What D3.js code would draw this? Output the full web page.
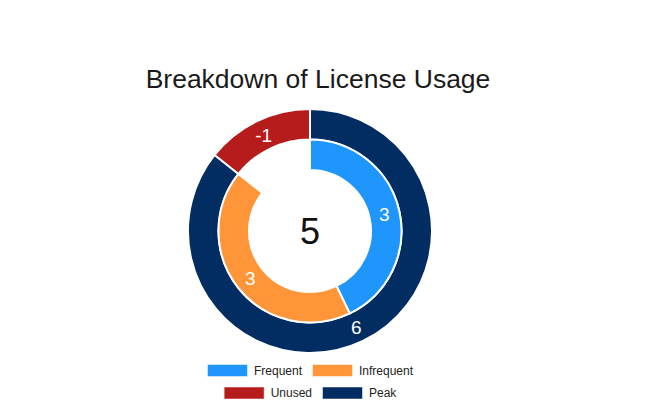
<!DOCTYPE html>
<html>
<head>
<meta charset="utf-8">
<script src="https://cdn.jsdelivr.net/npm/d3@7"></script>
<style>
  html, body { margin: 0; padding: 0; background: #fff; }
  svg text { font-family: "Liberation Sans", Arial, Helvetica, sans-serif; }
</style>
</head>
<body>
<svg id="chart" width="655" height="419"></svg>
<script>
//-----------------------------------------------------------------------------
// DATA
var title        = "Breakdown of License Usage";
var centerValue  = 5;
var innerLabels  = ["Frequent", "Infrequent"];
var innerValues  = [3, 3];
var outerLabels  = ["Peak", "Unused"];
var outerValues  = [6, -1];
var legendLabels = ["Frequent", "Infrequent", "Unused", "Peak"];
var legendRows   = [["Frequent", "Infrequent"], ["Unused", "Peak"]];

var colors = {
  "Frequent"  : "#1e96fc",
  "Infrequent": "#fe9639",
  "Unused"    : "#b71c1c",
  "Peak"      : "#022d62"
};
//-----------------------------------------------------------------------------
// LAYOUT
var cx = 310, cy = 231;
var outerR = 122, midR = 91.5, innerR = 61;

var svg = d3.select("#chart");

svg.append("text")
   .attr("x", 318).attr("y", 88)
   .attr("text-anchor", "middle")
   .attr("font-size", 26.5)
   .attr("fill", "#1a1a1a")
   .text(title);

var g = svg.append("g").attr("transform", "translate(" + cx + "," + cy + ")");

// both rings share the same scale: the outer ring total
var total = d3.sum(outerValues, function(v){ return Math.abs(v); });

var pie = d3.pie().sort(null).value(function(d){ return Math.abs(d.value); });

var outerData = outerLabels.map(function(l, i){ return {label: l, value: outerValues[i]}; });
var innerData = innerLabels.map(function(l, i){ return {label: l, value: innerValues[i]}; });
innerData.push({label: null, value: total - d3.sum(innerValues)}); // empty slot

var outerArc = d3.arc().innerRadius(midR).outerRadius(outerR);
var innerArc = d3.arc().innerRadius(innerR).outerRadius(midR);
var outerLab = d3.arc().innerRadius((midR + outerR) / 2).outerRadius((midR + outerR) / 2);
var innerLab = d3.arc().innerRadius((innerR + midR) / 2).outerRadius((innerR + midR) / 2);

function ring(data, arc, labArc){
  var arcs = pie(data).filter(function(d){ return d.data.label; });
  g.append("g").selectAll("path").data(arcs).enter()
   .append("path")
   .attr("d", arc)
   .attr("fill", function(d){ return colors[d.data.label]; })
   .attr("stroke", "#fff")
   .attr("stroke-width", 2);
  g.append("g").selectAll("text").data(arcs).enter()
   .append("text")
   .attr("transform", function(d){ return "translate(" + labArc.centroid(d) + ")"; })
   .attr("text-anchor", "middle")
   .attr("dy", "0.36em")
   .attr("font-size", 19)
   .attr("fill", "#fff")
   .text(function(d){ return d.data.value; });
}
ring(outerData, outerArc, outerLab);
ring(innerData, innerArc, innerLab);

g.append("text")
 .attr("text-anchor", "middle")
 .attr("dy", "0.36em")
 .attr("font-size", 36)
 .attr("fill", "#111")
 .text(centerValue);
//-----------------------------------------------------------------------------
// LEGEND
var boxW = 41, boxH = 13, gap = 6, itemPad = 10, fs = 12;
var measure = svg.append("text").attr("font-size", fs).attr("visibility", "hidden");
function textW(s){ measure.text(s); return measure.node().getComputedTextLength(); }

legendRows.forEach(function(row, r){
  var widths = row.map(function(l){ return boxW + gap + textW(l); });
  var rowW = d3.sum(widths) + itemPad * (row.length - 1);
  var x = cx - rowW / 2;
  var y = 364 + r * 22.5;
  var lg = svg.append("g");
  row.forEach(function(l, i){
    lg.append("rect")
      .attr("x", x + 0.5).attr("y", y + 0.5)
      .attr("width", boxW - 1).attr("height", boxH - 1)
      .attr("fill", colors[l])
      .attr("stroke", "#fff").attr("stroke-opacity", 0.5).attr("stroke-width", 1);
    lg.append("text")
      .attr("x", x + boxW + gap).attr("y", y + boxH / 2)
      .attr("dy", "0.36em")
      .attr("font-size", fs)
      .attr("fill", "#222")
      .text(l);
    x += widths[i] + itemPad;
  });
});
measure.remove();
</script>
</body>
</html>
